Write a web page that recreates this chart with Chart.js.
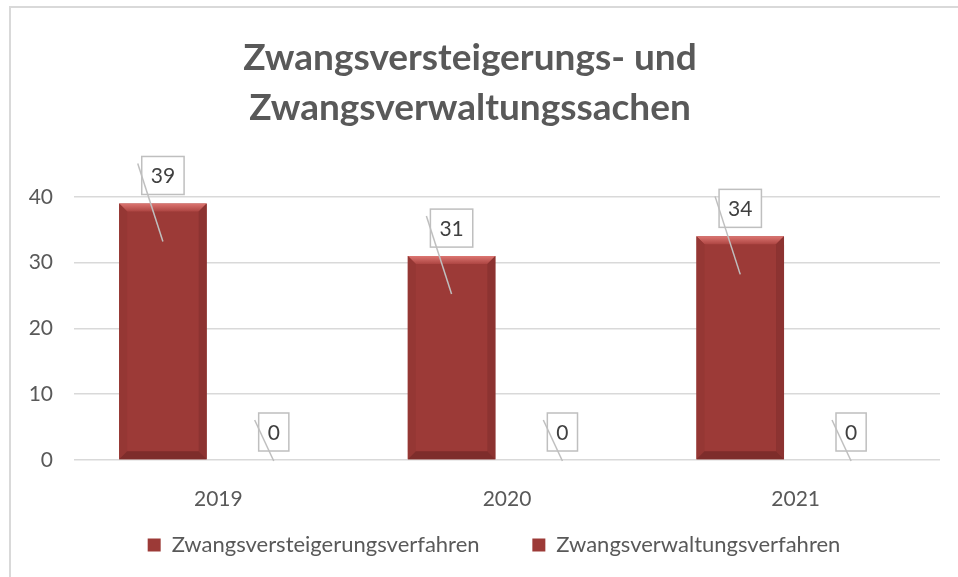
<!DOCTYPE html>
<html>
<head>
<meta charset="utf-8">
<script src="https://cdn.jsdelivr.net/npm/chart.js@4/dist/chart.umd.min.js"></script>
<style>
  html, body { margin: 0; padding: 0; background: #fff; }
  #wrap { width: 958px; height: 577px; }
</style>
</head>
<body>
<div id="wrap"><canvas id="zwangChart"></canvas></div>
<script>
// data
var years = ["2019", "2020", "2021"];
var versteigerung = [39, 31, 34];
var verwaltung = [0, 0, 0];
var yTicks = [0, 10, 20, 30, 40];

var FONT = "Lato, 'Open Sans', sans-serif";
var BAR_RED = '#9c3a37';

// white background + light frame (only left and top edges show)
var framePlugin = {
    id: 'frame',
    beforeDraw: function (chart) {
        var ctx = chart.ctx;
        ctx.save();
        ctx.fillStyle = '#ffffff';
        ctx.fillRect(0, 0, chart.width, chart.height);
        ctx.strokeStyle = '#d9d9d9';
        ctx.lineWidth = 2;
        ctx.strokeRect(10, 7, chart.width + 100, chart.height + 100);
        ctx.restore();
    }
};

// legend sits a bit right of centre in the original
var legendShift = {
    id: 'legendShift',
    afterLayout: function (chart) {
        chart.legend.left += 24;
        chart.legend.right += 24;
    }
};

// bevel look on the bars
var bevelPlugin = {
    id: 'bevel',
    afterDatasetsDraw: function (chart) {
        var ctx = chart.ctx;
        chart.data.datasets.forEach(function (ds, i) {
            chart.getDatasetMeta(i).data.forEach(function (bar) {
                var p = bar.getProps(['x', 'y', 'base', 'width'], true);
                var h = p.base - p.y;
                if (h < 2) return;
                var l = p.x - p.width / 2, r = p.x + p.width / 2, t = p.y, b = p.base;
                var bv = 8;
                ctx.save();
                // top
                var g = ctx.createLinearGradient(0, t, 0, t + bv);
                g.addColorStop(0, '#dc7571');
                g.addColorStop(1, '#ad4542');
                ctx.fillStyle = g;
                ctx.beginPath();
                ctx.moveTo(l, t); ctx.lineTo(r, t); ctx.lineTo(r - bv, t + bv); ctx.lineTo(l + bv, t + bv);
                ctx.closePath(); ctx.fill();
                // left
                ctx.fillStyle = '#953734';
                ctx.beginPath();
                ctx.moveTo(l, t); ctx.lineTo(l + bv, t + bv); ctx.lineTo(l + bv, b - bv); ctx.lineTo(l, b);
                ctx.closePath(); ctx.fill();
                // right
                ctx.fillStyle = '#8c3331';
                ctx.beginPath();
                ctx.moveTo(r, t); ctx.lineTo(r - bv, t + bv); ctx.lineTo(r - bv, b - bv); ctx.lineTo(r, b);
                ctx.closePath(); ctx.fill();
                // bottom
                ctx.fillStyle = '#7e2d2b';
                ctx.beginPath();
                ctx.moveTo(l, b); ctx.lineTo(l + bv, b - bv); ctx.lineTo(r - bv, b - bv); ctx.lineTo(r, b);
                ctx.closePath(); ctx.fill();
                ctx.restore();
            });
        });
    }
};

// boxed value labels with the skewed leader lines
var labelPlugin = {
    id: 'boxLabels',
    afterDatasetsDraw: function (chart) {
        var ctx = chart.ctx;
        ctx.save();
        ctx.font = '21px ' + FONT;
        ctx.textAlign = 'center';
        ctx.textBaseline = 'middle';
        chart.data.datasets.forEach(function (ds, i) {
            chart.getDatasetMeta(i).data.forEach(function (bar, j) {
                var p = bar.getProps(['x', 'y', 'base'], true);
                var txt = String(ds.data[j]);
                var tw = ctx.measureText(txt).width;
                var bw = tw + 18, bh = 38;
                var bx = p.x - bw / 2, by = p.y - 47;
                ctx.fillStyle = '#ffffff';
                ctx.fillRect(bx, by, bw, bh);
                ctx.strokeStyle = '#bfbfbf';
                ctx.lineWidth = 1.5;
                ctx.strokeRect(bx, by, bw, bh);
                ctx.fillStyle = '#404040';
                ctx.fillText(txt, p.x, by + bh / 2 + 1);
                // leader line
                ctx.strokeStyle = '#bfbfbf';
                ctx.lineWidth = 1.5;
                ctx.beginPath();
                ctx.moveTo(bx - 4, by + 7);
                ctx.lineTo(p.x, Math.min(p.y + 38, p.base + 1));
                ctx.stroke();
            });
        });
        ctx.restore();
    }
};

// wider gap between the two legend entries (extra invisible spacing after the first)
function legendLabels(chart) {
    var items = Chart.defaults.plugins.legend.labels.generateLabels(chart);
    var ctx = chart.ctx;
    ctx.save();
    ctx.font = '22px ' + FONT;
    var sp = ctx.measureText('\u00a0').width || 5;
    ctx.restore();
    var n = Math.max(0, Math.round(34 / sp));
    items.forEach(function (it, k) {
        if (k < items.length - 1) it.text = it.text + '\u00a0'.repeat(n);
    });
    return items;
}

var chartOne = document.getElementById('zwangChart').getContext('2d');
var myChart = new Chart(chartOne, {
    type: 'bar',
    data: {
        labels: years,
        datasets: [{
            label: 'Zwangsversteigerungsverfahren',
            data: versteigerung,
            backgroundColor: BAR_RED,
            borderWidth: 0,
            categoryPercentage: 0.768,
            barPercentage: 0.79
        }, {
            label: 'Zwangsverwaltungsverfahren',
            data: verwaltung,
            backgroundColor: BAR_RED,
            borderWidth: 0,
            categoryPercentage: 0.768,
            barPercentage: 0.79
        }]
    },
    options: {
        responsive: true,
        maintainAspectRatio: false,
        animation: false,
        layout: { padding: { left: 0, right: 18, top: 0, bottom: 11 } },
        plugins: {
            title: {
                display: true,
                text: ['Zwangsversteigerungs- und', 'Zwangsverwaltungssachen'],
                color: '#595959',
                font: { family: FONT, size: 37, weight: 'bold', lineHeight: 1.35 },
                padding: { top: 33, bottom: 64 }
            },
            legend: {
                position: 'bottom',
                labels: {
                    color: '#595959',
                    font: { family: FONT, size: 22 },
                    boxWidth: 13,
                    boxHeight: 13,
                    padding: 19,
                    generateLabels: legendLabels
                }
            },
            tooltip: { enabled: false }
        },
        scales: {
            x: {
                grid: { display: false },
                border: { display: false },
                ticks: { color: '#595959', font: { family: FONT, size: 21 }, padding: 19 },
                afterFit: function (scale) { scale.height = 55; }
            },
            y: {
                min: 0,
                max: 40,
                afterBuildTicks: function (scale) {
                    scale.ticks = yTicks.map(function (v) { return { value: v }; });
                },
                grid: { color: '#d9d9d9', lineWidth: 1.5, drawTicks: false },
                border: { display: false },
                ticks: { color: '#595959', font: { family: FONT, size: 21 }, padding: 21 },
                afterFit: function (scale) { scale.width = 74; }
            }
        }
    },
    plugins: [framePlugin, legendShift, bevelPlugin, labelPlugin]
});
</script>
</body>
</html>
